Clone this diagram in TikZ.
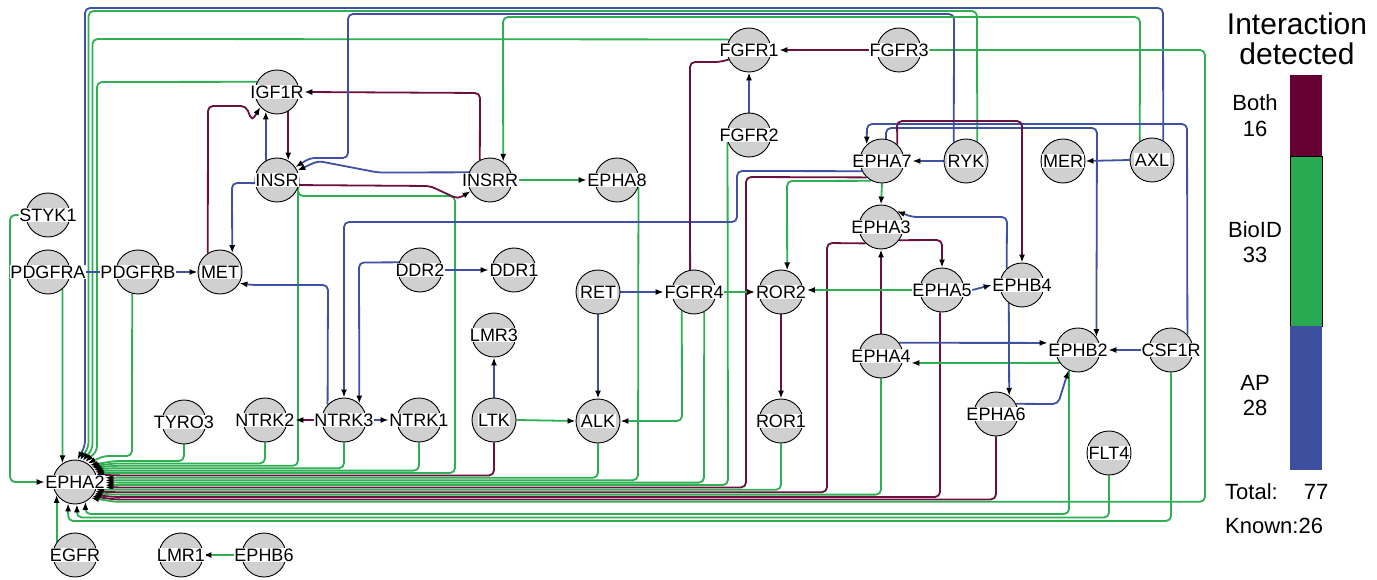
\documentclass[tikz,border=0pt]{standalone}
\usepackage{fontspec}
\setmainfont{Liberation Sans}
\usetikzlibrary{arrows.meta}
\definecolor{cmar}{HTML}{6B1040}
\definecolor{cgrn}{HTML}{2EAF52}
\definecolor{cblu}{HTML}{3F51A3}
\definecolor{cgray}{HTML}{D0D0D0}
\definecolor{bmar}{HTML}{660033}
\definecolor{bgrn}{HTML}{2AA953}
\definecolor{bblu}{HTML}{3D4F9E}
\pgfdeclarelayer{bg}
\pgfsetlayers{bg,main}
\tikzset{
 gn/.style={circle,draw=black,line width=0.9pt,fill=cgray,minimum size=44pt,inner sep=0pt},
 gl/.style={fill=white,inner sep=0.6pt,font=\fontsize{18}{18}\selectfont},
 ed/.style={line width=1.8pt,rounded corners=5pt},
 arw/.style={-{Latex[length=8pt,width=6pt,color=black]}},
 emar/.style={ed,draw=cmar},
 egrn/.style={ed,draw=cgrn},
 eblu/.style={ed,draw=cblu},
 legt/.style={font=\fontsize{22}{22}\selectfont,inner sep=0pt},
}
\newcommand\kinnode[3]{\node[gn] (#1) at (#2,#3) {}; \node[gl] (#1t) at (#2,#3) {#1};}
\begin{document}
\begin{tikzpicture}[x=1pt,y=-1pt]
\useasboundingbox (0,0) rectangle (1377,580);
\kinnode{FGFR1}{749}{50}
\kinnode{FGFR3}{899}{50}
\kinnode{IGF1R}{277}{92}
\kinnode{FGFR2}{749}{135}
\kinnode{EPHA7}{882}{161}
\kinnode{RYK}{966}{161}
\kinnode{MER}{1063}{161}
\kinnode{AXL}{1152}{160}
\kinnode{INSR}{277}{180}
\kinnode{INSRR}{490}{180}
\kinnode{EPHA8}{617}{180}
\kinnode{STYK1}{48}{215}
\kinnode{EPHA3}{881}{227}
\kinnode{PDGFRA}{48}{272}
\kinnode{PDGFRB}{138}{272}
\kinnode{MET}{220}{272}
\kinnode{DDR2}{420}{270}
\kinnode{DDR1}{514}{270}
\kinnode{RET}{598}{292}
\kinnode{FGFR4}{694}{292}
\kinnode{ROR2}{781}{292}
\kinnode{EPHA5}{942}{290}
\kinnode{EPHB4}{1022}{285}
\kinnode{LMR3}{494}{335}
\kinnode{EPHA4}{881}{356}
\kinnode{EPHB2}{1078}{350}
\kinnode{CSF1R}{1171}{350}
\kinnode{TYRO3}{184}{422}
\kinnode{NTRK2}{265}{420}
\kinnode{NTRK3}{344}{420}
\kinnode{NTRK1}{419}{420}
\kinnode{LTK}{494}{420}
\kinnode{ALK}{598}{421}
\kinnode{ROR1}{781}{421}
\kinnode{EPHA6}{996}{414}
\kinnode{FLT4}{1109}{453}
\kinnode{EPHA2}{75}{482}
\kinnode{EGFR}{75}{555}
\kinnode{LMR1}{181}{555}
\kinnode{EPHB6}{264}{555}
% legend
\fill[bmar] (1290,75) rectangle (1322,157);
\filldraw[fill=bgrn,draw=black,line width=1pt] (1290,157) rectangle (1322,326);
\fill[bblu] (1290,326) rectangle (1322,470);
\node[font=\fontsize{30}{30}\selectfont,inner sep=0pt] (lg1) at (1297,24) {Interaction};
\node[font=\fontsize{30}{30}\selectfont,inner sep=0pt] (lg2) at (1297,54) {detected};
\node[legt] (lb1) at (1255,103) {Both};
\node[legt] (lb2) at (1255,129) {16};
\node[legt] (lb3) at (1255,230) {BioID};
\node[legt] (lb4) at (1255,255) {33};
\node[legt] (lb5) at (1255,383) {AP};
\node[legt] (lb6) at (1255,408) {28};
\node[legt,anchor=west] (lb7) at (1225,492) {Total:};
\node[legt] (lb8) at (1316,492) {77};
\node[legt,anchor=west] (lb9) at (1225,526) {Known:26};
\begin{pgfonlayer}{bg}
\fill[white] (0,0) rectangle (1377,580);
% long lines into EPHA2 from the top
\draw[eblu,arw] (AXL.60) -- (1163,8) -- (85,8) -- (85,446) -- (EPHA2.84);
\draw[egrn,arw] (RYK.60) -- (977,11) -- (88.5,11) -- (88.5,447) -- (EPHA2.77);
\draw[egrn,arw] (FGFR1.152) -- (92.5,39) -- (92.5,449) -- (EPHA2.70);
\draw[egrn,arw] (IGF1R.153) -- (97,82) -- (97,451) -- (EPHA2.63);
\draw[egrn,arw] (STYK1t.west) -- (10,215) -- (10,482) -- (EPHA2t.west);
\draw[egrn,arw] (PDGFRA.-50) -- (EPHA2.124);
\draw[egrn,arw] (PDGFRB.-105) -- (132,456) -- (104,456) -- (EPHA2.56);
% bundle into EPHA2
\draw[egrn,arw] (TYRO3.south) -- (184,461) -- (115,461) -- (EPHA2.49);
\draw[egrn,arw] (NTRK2.south) -- (265,463.4) -- (115,463.4) -- (EPHA2.44);
\draw[egrn,arw] (INSR.-20) -- (298,188) -- (298,465.8) -- (115,465.8) -- (EPHA2.39);
\draw[egrn,arw] (NTRK3.south) -- (344,468.2) -- (115,468.2) -- (EPHA2.34);
\draw[egrn,arw] (NTRK1.south) -- (419,470.6) -- (115,470.6) -- (EPHA2.29);
\draw[egrn,arw] (INSR.-20) -- (298,196) -- (455,196) -- (455,473) -- (115,473) -- (EPHA2.24);
\draw[emar,arw] (LTK.south) -- (494,475.4) -- (115,475.4) -- (EPHA2.20);
\draw[egrn,arw] (ALK.south) -- (598,477.8) -- (115,477.8) -- (EPHA2t.8.5);
\draw[egrn,arw] (EPHA8.-17) -- (638,480.2) -- (115,480.2) -- (EPHA2t.3.7);
\draw[egrn,arw] (FGFR4.-63) -- (704,482.6) -- (115,482.6) -- (EPHA2t.-1.2);
\draw[egrn,arw] (FGFR2.-163) -- (728,485) -- (115,485) -- (EPHA2t.-6.1);
\draw[emar,arw] (EPHA7.-133) -- (746,177) -- (746,487.4) -- (115,487.4) -- (EPHA2t.-10.9);
\draw[egrn,arw] (ROR1.south) -- (781,489.8) -- (115,489.8) -- (EPHA2.-20);
\draw[emar,arw] (EPHA3.-133) -- (827,243) -- (827,492.2) -- (115,492.2) -- (EPHA2.-25);
\draw[egrn,arw] (EPHA4.south) -- (881,494.6) -- (115,494.6) -- (EPHA2.-30);
\draw[emar,arw] (EPHA5.-95) -- (940,497) -- (115,497) -- (EPHA2.-35);
\draw[emar,arw] (EPHA6.south) -- (996,499.4) -- (115,499.4) -- (EPHA2.-40);
\draw[egrn,arw] (FGFR3t.east) -- (1205,50) -- (1205,501.8) -- (115,501.8) -- (EPHA2.-45);
\draw[egrn,arw] (EPHB2.-114) -- (1069,514) -- (85.3,514) -- (EPHA2.-62);
\draw[egrn,arw] (FLT4.south) -- (1109,517.5) -- (76.9,517.5) -- (EPHA2.-85);
\draw[egrn,arw] (CSF1R.south) -- (1171,521) -- (68.2,521) -- (EPHA2.-108);
\draw[egrn,arw] (EGFR.145) -- (EPHA2.-145);
% other edges
\draw[emar,arw] (IGF1R.-60) -- (INSR.60);
\draw[eblu,arw] (INSR.120) -- (IGF1R.-120);
\draw[emar,arw] (MET.123) -- (208,106) -- (246,106) -- (252,121) -- (IGF1R.-138);
\draw[emar,arw] (INSRR.117) -- (480,93) -- (IGF1Rt.east);
\draw[emar,arw] (INSR.-13) -- (430,186) -- (458,199) -- (INSRR.-150);
\draw[eblu,arw] (RYK.123) -- (954,14) -- (348,14) -- (348,158) -- (310,158) -- (INSR.35);
\draw[eblu,arw] (INSRR.160) -- (378,172.5) -- (318,161) -- (INSR.25);
\draw[eblu,arw] (INSR.-172) -- (232,183) -- (MET.57);
\draw[eblu] (PDGFRAt.east) -- (PDGFRBt.west);
\draw[eblu,arw] (PDGFRBt.east) -- (MET.west);
\draw[eblu,arw] (NTRK3.137) -- (328,285) -- (252,285) -- (MET.-30);
\draw[eblu,arw] (EPHA7.-153) -- (737,171) -- (737,222) -- (344,222) -- (NTRK3.north);
\draw[eblu,arw] (DDR2.160) -- (359,262.5) -- (NTRK3.47);
\draw[eblu,arw] (DDR2t.east) -- (DDR1t.west);
\draw[emar,arw] (NTRK3t.west) -- (NTRK2t.east);
\draw[eblu,arw] (NTRK3t.east) -- (NTRK1t.west);
\draw[eblu,arw] (LTK.north) -- (LMR3.south);
\draw[egrn,arw] (LTK.east) -- (ALK.west);
\draw[eblu,arw] (RET.south) -- (ALK.north);
\draw[eblu,arw] (RET.east) -- (FGFR4t.west);
\draw[egrn,arw] (FGFR4t.east) -- (ROR2t.west);
\draw[egrn,arw] (FGFR4.-123) -- (682,421) -- (ALK.east);
\draw[emar,arw] (ROR2.south) -- (ROR1.north);
\draw[emar] (FGFR1.-155) -- (720,62) -- (690,62) -- (FGFR4.100);
\draw[emar,arw] (FGFR3t.west) -- (FGFR1t.east);
\draw[eblu,arw] (FGFR2.north) -- (FGFR1.south);
\draw[egrn,arw] (INSRRt.east) -- (EPHA8t.west);
\draw[egrn,arw] (AXL.123) -- (1140,17) -- (503,17) -- (INSRR.54);
\draw[eblu,arw] (RYK.west) -- (EPHA7t.east);
\draw[eblu,arw] (AXL.west) -- (MER.east);
\draw[egrn,arw] (EPHA7.-118) -- (787,181) -- (ROR2.74);
\draw[egrn,arw] (EPHA7.south) -- (EPHA3.north);
\draw[eblu,arw] (CSF1R.43) -- (1187,124) -- (867,124) -- (EPHA7.133);
\draw[eblu,arw] (EPHA7.80) -- (886,128) -- (1097,128) -- (EPHB2.35);
\draw[emar,arw] (EPHA7.47) -- (897,121) -- (1022,121) -- (EPHB4.north);
\draw[eblu,arw] (EPHB4.133) -- (1007,217) -- (912,217) -- (EPHA3.45);
\draw[emar,arw] (EPHA3.-36) -- (942,240) -- (EPHA5.north);
\draw[emar,arw] (EPHA4.north) -- (EPHA3.south);
\draw[egrn,arw] (EPHA5t.west) -- (ROR2t.east |- EPHA5t.west);
\draw[eblu,arw] (EPHA5t.east) -- (EPHB4t.west);
\draw[eblu,arw] (EPHA4.36) -- (EPHB2t.north west);
\draw[egrn,arw] (EPHB2.-145) -- (EPHA4t.south east);
\draw[eblu,arw] (CSF1Rt.west) -- (EPHB2t.east);
\draw[eblu,arw] (EPHA6.27) -- (1058,404) -- (EPHB2.-115);
\draw[eblu,arw] (EPHB4.-126) -- (EPHA6.54);
\draw[egrn,arw] (EPHB6t.west) -- (LMR1.east);
\end{pgfonlayer}
\end{tikzpicture}
\end{document}
